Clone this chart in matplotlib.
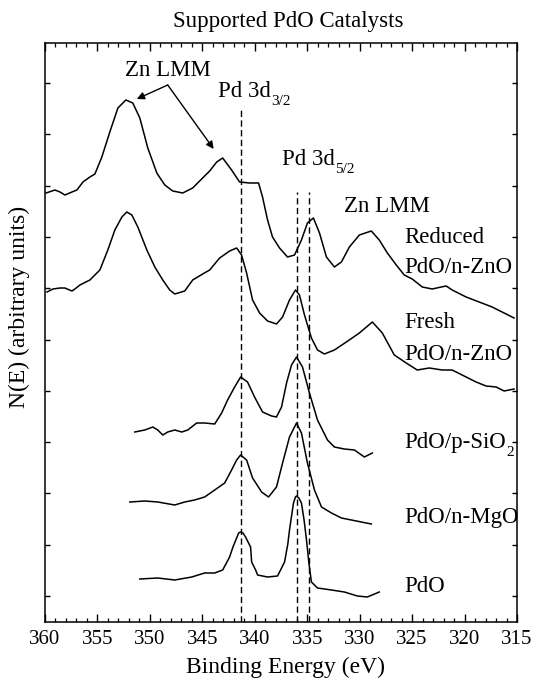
import matplotlib
matplotlib.use("Agg")
import matplotlib.pyplot as plt
import numpy as np

plt.rcParams['font.family'] = ['Liberation Serif', 'DejaVu Serif']

# ---------------- data (binding energy in eV, N(E) in arbitrary units, offsets included) ----------
reduced_E = [359.90, 359.05, 358.57, 358.10, 357.43, 356.96, 356.38, 355.72, 355.24, 354.58,
             353.82, 353.05, 352.29, 351.63, 350.96, 350.20, 349.34, 348.58, 347.82, 346.87,
             345.92, 344.97, 344.30, 343.63, 343.06, 342.21, 341.45, 340.50, 339.64, 339.26,
             338.78, 338.31, 337.64, 336.88, 336.21, 335.55, 334.98, 334.41, 333.83, 333.17,
             332.41, 331.74, 330.98, 330.03, 328.89, 328.13, 327.36, 326.51, 325.75, 324.99,
             324.03, 323.08, 322.23, 321.75, 321.18, 319.85, 318.61, 317.37, 316.04, 315.28]
reduced_N = [429, 432, 430, 427, 430, 432, 440, 445, 448, 465,
             490, 514, 522, 519, 504, 474, 449, 437, 431, 429,
             434, 444, 451, 460, 464, 452, 440, 439, 439, 425,
             402, 385, 374, 365, 367, 382, 399, 404, 389, 365,
             355, 360, 375, 387, 391, 382, 369, 357, 347, 343,
             335, 333, 335, 336, 332, 325, 320, 315, 308, 304]

fresh_E = [359.81, 359.24, 358.57, 358.10, 357.43, 357.15, 356.67, 355.72, 354.77, 354.01,
           353.34, 352.67, 352.20, 351.72, 351.15, 350.29, 349.53, 348.77, 348.11, 347.63,
           346.68, 345.92, 344.97, 344.30, 343.35, 342.40, 341.73, 341.26, 340.78, 340.21,
           339.54, 338.78, 337.93, 337.35, 336.69, 336.12, 335.74, 335.26, 334.60, 334.02,
           333.36, 332.41, 331.27, 330.03, 328.79, 327.84, 326.70, 325.56, 324.51, 323.37,
           322.13, 321.18, 320.23, 318.90, 317.95, 316.99, 316.23, 315.28]
fresh_N = [330, 333, 334, 334, 331, 333, 337, 342, 352, 372,
           392, 405, 410, 407, 395, 372, 355, 342, 332, 328,
           331, 342, 348, 352, 364, 371, 374, 367, 349, 322,
           309, 301, 298, 305, 322, 332, 327, 307, 284, 272,
           268, 272, 280, 289, 300, 289, 267, 259, 252, 254,
           252, 252, 247, 240, 236, 235, 231, 233]

sio2_E = [351.44, 350.49, 349.72, 349.25, 348.77, 348.30, 347.63, 346.96, 346.39, 345.54,
          344.78, 343.82, 343.16, 342.59, 341.92, 341.35, 340.69, 340.02, 339.26, 338.40,
          337.93, 337.45, 336.97, 336.50, 336.02, 335.45, 334.79, 334.02, 333.07, 332.41,
          331.46, 330.50, 329.55, 328.79]
sio2_N = [190, 192, 195, 192, 187, 190, 192, 190, 192, 199,
          199, 198, 209, 222, 235, 245, 240, 225, 210, 206,
          205, 215, 239, 257, 265, 255, 229, 202, 182, 175,
          173, 172, 165, 169]

mgo_E = [351.91, 350.49, 349.25, 347.63, 346.68, 345.73, 344.78, 343.82, 342.87, 342.21,
         341.73, 341.35, 340.78, 340.21, 339.35, 338.69, 337.93, 337.35, 336.69, 336.02,
         335.55, 334.98, 334.31, 333.64, 332.69, 331.74, 330.79, 329.84, 328.89]
mgo_N = [120, 121, 120, 117, 120, 122, 125, 132, 139, 152,
         162, 167, 162, 144, 130, 125, 135, 159, 185, 199,
         189, 159, 132, 115, 109, 104, 102, 100, 98]

pdo_E = [350.96, 349.25, 347.63, 346.01, 344.78, 343.82, 343.06, 342.40, 342.08, 341.73,
         341.54, 341.35, 341.13, 340.88, 340.40, 340.30, 339.92, 339.73, 338.78, 337.83,
         337.16, 336.85, 336.69, 336.31, 336.12, 336.02, 335.80, 335.55, 335.30, 335.07,
         334.85, 334.60, 334.02, 332.69, 331.46, 330.22, 329.27, 328.13]
pdo_N = [43, 44, 42, 45, 49, 49, 52, 65, 75, 84,
         89, 90, 89, 85, 75, 60, 52, 47, 45, 46,
         60, 78, 92, 119, 125, 126, 124, 119, 102, 82,
         60, 40, 34, 32, 30, 26, 25, 30]

# reference lines (eV) and their top ends (arb. units)
ref_lines_E = [341.35, 336.02, 334.79]
ref_lines_top = [512, 430, 430]

x_major = [360, 355, 350, 345, 340, 335, 330, 325, 320, 315]

# ---------------- figure ----------------
W, H = 533, 678
fig = plt.figure(figsize=(W / 100, H / 100), dpi=100)
L, R, B, T = 45, 517, 622, 43
ax = fig.add_axes([L / W, 1 - B / H, (R - L) / W, (B - T) / H])

for E, N in [(reduced_E, reduced_N), (fresh_E, fresh_N), (sio2_E, sio2_N),
             (mgo_E, mgo_N), (pdo_E, pdo_N)]:
    ax.plot(E, N, color='black', lw=1.1)

for xe, top in zip(ref_lines_E, ref_lines_top):
    ax.plot([xe, xe], [0, top], color='black', lw=1.0, linestyle=(0, (4.5, 2.5)))

ax.set_xlim(360, 315)
ax.set_ylim(0, 579)
ax.set_xticks(x_major)
ax.set_xticks(np.arange(315, 361, 1), minor=True)
ax.set_yticks(np.arange(26, 560, 51.3))
ax.set_yticklabels([])
ax.tick_params(axis='x', which='major', direction='in', length=6, width=1.0,
               top=True, labelsize=15, pad=6)
ax.tick_params(axis='x', which='minor', direction='in', length=3, width=0.9, top=True)
ax.tick_params(axis='y', which='major', direction='in', length=3.5, width=1.0, right=True)
for s in ax.spines.values():
    s.set_linewidth(1.1)

fs = 16.5
sub_fs = 11


def label_with_sub(x, y, main, sub):
    t = ax.text(x, y, main, fontsize=fs, ha='left', va='baseline')
    ax.annotate(sub, xy=(1, 0), xycoords=t, xytext=(0.5, -2.5),
                textcoords='offset points', fontsize=sub_fs, ha='left', va='baseline')


ax.text(348.30, 552, 'Zn LMM', fontsize=fs, ha='center', va='center')
arrow = dict(arrowstyle='-|>', color='black', lw=1.0, mutation_scale=11,
             shrinkA=0, shrinkB=0)
ax.annotate('', xy=(351.25, 523), xytext=(348.30, 537), arrowprops=arrow)
ax.annotate('', xy=(343.92, 473), xytext=(348.30, 537), arrowprops=arrow)

label_with_sub(343.54, 525, 'Pd 3d', '3/2')
label_with_sub(337.45, 457, 'Pd 3d', '5/2')
ax.text(331.46, 410, 'Zn LMM', fontsize=fs, ha='left', va='baseline')
ax.text(325.75, 379, 'Reduced', fontsize=fs, ha='left', va='baseline')
ax.text(325.75, 349, 'PdO/n-ZnO', fontsize=fs, ha='left', va='baseline')
ax.text(325.75, 294, 'Fresh', fontsize=fs, ha='left', va='baseline')
ax.text(325.75, 262, 'PdO/n-ZnO', fontsize=fs, ha='left', va='baseline')
label_with_sub(325.75, 174, 'PdO/p-SiO', '2')
ax.text(325.75, 99, 'PdO/n-MgO', fontsize=fs, ha='left', va='baseline')
ax.text(325.75, 30, 'PdO', fontsize=fs, ha='left', va='baseline')

fig.text(288 / W, 1 - 22 / H, 'Supported PdO Catalysts', fontsize=16.5,
         ha='center', va='center')
fig.text(285 / W, 1 - 667 / H, 'Binding Energy (eV)', fontsize=17,
         ha='center', va='center')
fig.text(19 / W, 1 - 307 / H, 'N(E) (arbitrary units)', fontsize=17,
         ha='center', va='center', rotation=90)

fig.savefig('out.png', dpi=100)
